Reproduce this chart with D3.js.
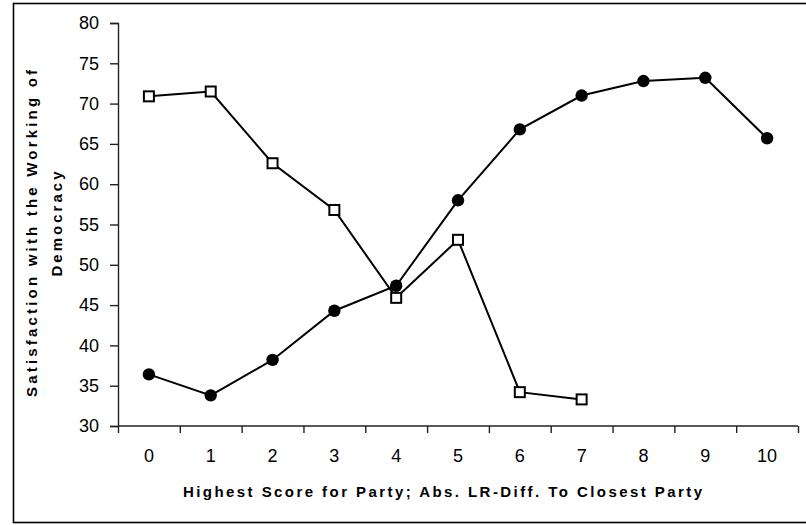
<!DOCTYPE html>
<html>
<head>
<meta charset="utf-8">
<script src="https://cdn.jsdelivr.net/npm/d3@7"></script>
<style>
  html, body { margin: 0; padding: 0; background: #fff; }
  svg { display: block; }
  text { font-family: "Liberation Sans", Arial, sans-serif; fill: #000; }
</style>
</head>
<body>
<svg id="chart" width="806" height="525"></svg>
<script>
// ---- data ----
const categories = ["0","1","2","3","4","5","6","7","8","9","10"];
const squareCategories = ["0","1","2","3","4","5","6","7"];
const squareValues = [70.9, 71.5, 62.6, 56.8, 45.9, 53.1, 34.2, 33.3];
const circleValues = [36.4, 33.8, 38.2, 44.3, 47.4, 58.0, 66.8, 71.0, 72.8, 73.2, 65.7];
const yTicks = [30, 35, 40, 45, 50, 55, 60, 65, 70, 75, 80];
const xTitle = "Highest Score for Party; Abs. LR-Diff. To Closest Party";
const yTitleLines = ["Satisfaction with the Working of", "Democracy"];

// ---- layout ----
const svg = d3.select("#chart");
const plot = { left: 118, right: 798, top: 23, bottom: 426 };

// outer frame (right edge beyond canvas)
svg.append("rect")
  .attr("x", 13.5).attr("y", 3.5)
  .attr("width", 820).attr("height", 519)
  .attr("fill", "none").attr("stroke", "#000").attr("stroke-width", 1.6);

const x = d3.scaleBand().domain(categories).range([plot.left, plot.right]).padding(0);
const xEdge = d3.scaleLinear().domain([0, categories.length]).range([plot.left, plot.right]);
const y = d3.scaleLinear().domain([30, 80]).range([plot.bottom, plot.top]);

// y axis
const yAxis = svg.append("g")
  .attr("transform", `translate(${plot.left},0)`)
  .call(d3.axisLeft(y).tickValues(yTicks).tickSize(8).tickPadding(11));
yAxis.selectAll("path, line").attr("stroke", "#222").attr("stroke-width", 1.4);
yAxis.selectAll("text").style("font-size", "18px").attr("font-family", "Liberation Sans, Arial, sans-serif");

// x axis line + boundary ticks
const xTickAxis = svg.append("g")
  .attr("transform", `translate(0,${plot.bottom})`)
  .call(d3.axisBottom(xEdge).tickValues(d3.range(0, categories.length + 1)).tickSize(7).tickFormat(""));
xTickAxis.select(".domain").attr("d", `M${plot.left},0H${plot.right}`);
xTickAxis.selectAll("path, line").attr("stroke", "#222").attr("stroke-width", 1.4);

// x category labels
const xLabelAxis = svg.append("g")
  .attr("transform", `translate(0,${plot.bottom})`)
  .call(d3.axisBottom(x).tickSize(0).tickPadding(23));
xLabelAxis.select(".domain").remove();
xLabelAxis.selectAll("text").style("font-size", "18px").attr("font-family", "Liberation Sans, Arial, sans-serif");

// axis titles
svg.append("text")
  .attr("x", 442.5).attr("y", 497)
  .attr("text-anchor", "middle")
  .attr("textLength", 519).attr("lengthAdjust", "spacing")
  .style("font-size", "15px").style("font-weight", "bold")
  .text(xTitle);

const yTitleCfg = [{ x: 37, cy: 233.5, len: 327 }, { x: 62, cy: 224, len: 105 }];
yTitleLines.forEach((t, i) => {
  const c = yTitleCfg[i];
  svg.append("text")
    .attr("transform", `translate(${c.x},${c.cy}) rotate(-90)`)
    .attr("text-anchor", "middle")
    .attr("textLength", c.len).attr("lengthAdjust", "spacing")
    .style("font-size", "15px").style("font-weight", "bold")
    .text(t);
});

const cx = d => x(d) + x.bandwidth() / 2;

// circle series
const circleData = categories.map((c, i) => ({ c, v: circleValues[i] }));
svg.append("path")
  .datum(circleData)
  .attr("fill", "none").attr("stroke", "#000").attr("stroke-width", 2)
  .attr("d", d3.line().x(d => cx(d.c)).y(d => y(d.v)));

// square series
const squareData = squareCategories.map((c, i) => ({ c, v: squareValues[i] }));
svg.append("path")
  .datum(squareData)
  .attr("fill", "none").attr("stroke", "#000").attr("stroke-width", 2)
  .attr("d", d3.line().x(d => cx(d.c)).y(d => y(d.v)));

svg.selectAll("rect.sq").data(squareData).join("rect")
  .attr("class", "sq")
  .attr("x", d => cx(d.c) - 5).attr("y", d => y(d.v) - 5)
  .attr("width", 10).attr("height", 10)
  .attr("fill", "#fff").attr("stroke", "#000").attr("stroke-width", 2);

svg.selectAll("circle.pt").data(circleData).join("circle")
  .attr("class", "pt")
  .attr("cx", d => cx(d.c)).attr("cy", d => y(d.v))
  .attr("r", 6.2)
  .attr("fill", "#000");
</script>
</body>
</html>
